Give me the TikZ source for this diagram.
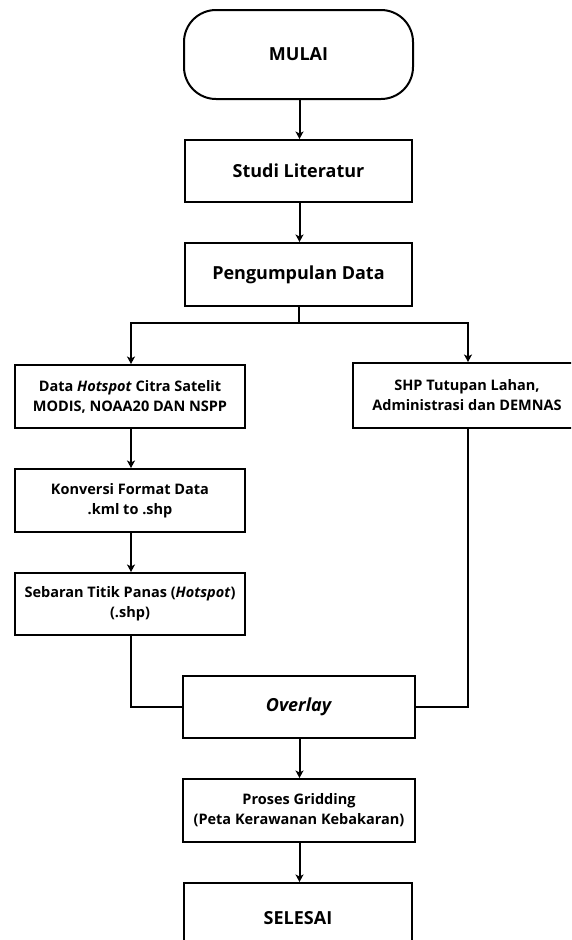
\documentclass[tikz,border=0pt]{standalone}
\usepackage{fontspec}
\setmainfont{Open Sans}
\usetikzlibrary{arrows.meta}
\tikzset{
  box/.style={draw=black, line width=2pt, fill=white, minimum height=62pt, inner sep=0pt, align=center},
  bigbox/.style={box, minimum width=227pt, font=\bfseries\fontsize{18}{22}\selectfont},
  smallbox/.style={box, minimum width=230pt, font=\bfseries\fontsize{14.5}{20}\selectfont},
  conn/.style={line width=2pt, draw=black, line join=miter},
  arr/.style={conn, -{Stealth[length=7.5pt,width=8pt,inset=2pt]}},
}
\begin{document}
\begin{tikzpicture}[x=1pt,y=-1pt]
\useasboundingbox (0,0) rectangle (571,940);
\clip (0,0) rectangle (571,940);
\node[box, bigbox, minimum height=89pt, minimum width=229pt, rounded corners=32pt] (mulai) at (298.5,54.5) {MULAI};
\node[bigbox] (studi) at (298.5,171) {Studi Literatur};
\node[bigbox, minimum height=63pt] (kumpul) at (298.5,274.5) {Pengumpulan Data};
\node[smallbox, minimum height=63pt] (hotspot) at (130,396.5) {Data \textit{Hotspot} Citra Satelit\\MODIS, NOAA20 DAN NSPP};
\node[smallbox, minimum height=63pt] (konversi) at (130,500.5) {Konversi Format Data\\.kml to .shp};
\node[smallbox] (sebaran) at (130,604) {Sebaran Titik Panas (\textit{Hotspot})\\(.shp)};
\node[smallbox, minimum width=228pt, minimum height=65pt] (shp) at (467,395.5) {SHP Tutupan Lahan,\\Administrasi dan DEMNAS};
\node[bigbox, minimum width=232pt] (overlay) at (299,707) {\textit{Overlay}};
\node[smallbox, minimum width=232pt, minimum height=63pt] (grid) at (299,810.5) {Proses Gridding\\(Peta Kerawanan Kebakaran)};
\node[bigbox, minimum width=228pt, minimum height=70pt] (selesai) at (298,918) {SELESAI};
\coordinate (split) at (299,323);
\draw[arr] (mulai.south -| 299.5,0) -- (studi.north -| 299.5,0);
\draw[arr] (studi.south -| 299.5,0) -- (kumpul.north -| 299.5,0);
\draw[conn] (kumpul.south -| split) -- (split);
\draw[arr] (split) -| (hotspot.north -| 131,0);
\draw[arr] (split) -| (shp.north -| 468,0);
\draw[arr] (hotspot.south -| 131,0) -- (konversi.north -| 131,0);
\draw[arr] (konversi.south -| 131,0) -- (sebaran.north -| 131,0);
\draw[conn] (sebaran.south -| 131,0) |- (overlay.west);
\draw[conn] (shp.south -| 468,0) |- (overlay.east);
\draw[arr] (overlay.south -| 299.5,0) -- (grid.north -| 299.5,0);
\draw[arr] (grid.south -| 299.5,0) -- (selesai.north -| 299.5,0);
\end{tikzpicture}
\end{document}
